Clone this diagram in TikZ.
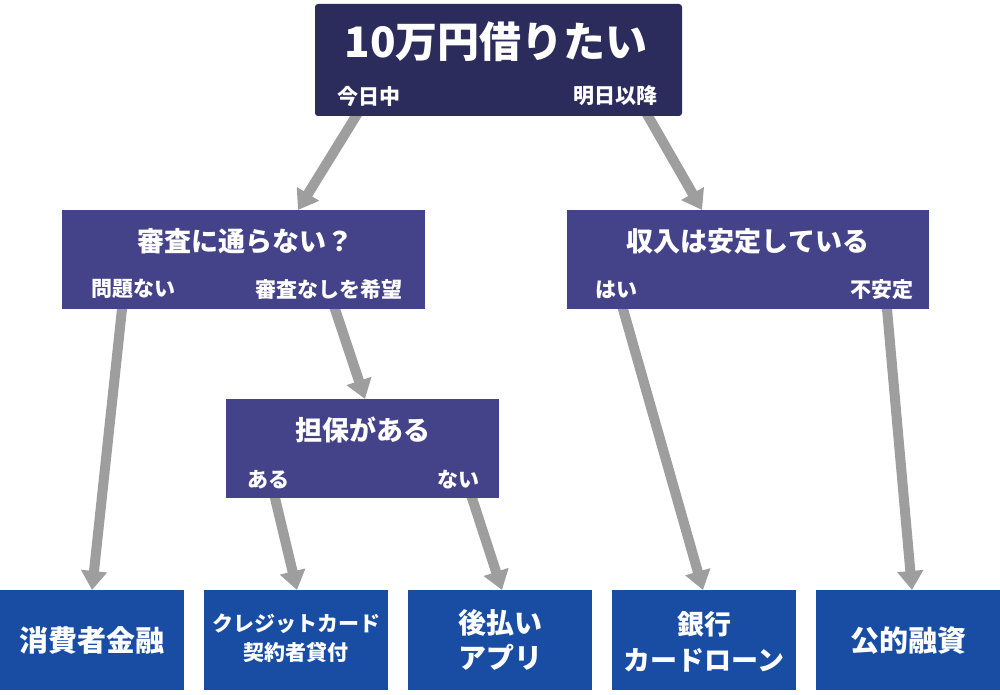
\documentclass[tikz,border=0pt]{standalone}
\usepackage{fontspec}
\setmainfont{Noto Sans CJK JP}
\usetikzlibrary{arrows.meta,calc,backgrounds}
\definecolor{topc}{RGB}{43,44,92}
\definecolor{midc}{RGB}{68,67,138}
\definecolor{botc}{RGB}{24,77,163}
\definecolor{arrc}{RGB}{158,158,158}
\newcommand\fsz[2]{\fontsize{#1pt}{#2pt}\selectfont}
\tikzset{
  box/.style={draw=none, inner sep=0pt, outer sep=0pt},
  topbox/.style={box, fill=topc, rounded corners=3pt, minimum width=367pt, minimum height=112pt},
  midbox/.style={box, fill=midc, minimum height=99pt},
  botbox/.style={box, fill=botc, minimum width=184pt, minimum height=100pt},
  txt/.style={text=white, inner sep=0pt, align=center, font=\bfseries},
  arr/.style={draw=arrc, line width=10pt, -{Triangle[width=25pt,length=19pt]}}
}
\begin{document}
\begin{tikzpicture}[x=1pt,y=-1pt]
\useasboundingbox (0,0) rectangle (1000,695);
% boxes
\node[topbox] (top) at (498.5,60) {};
\node[midbox, minimum width=363pt] (l2) at (243.5,259.5) {};
\node[midbox, minimum width=362pt] (r2) at (748,259.5) {};
\node[midbox, minimum width=273pt] (l3) at (362.5,448.5) {};
\node[botbox] (b1) at (92,640) {};
\node[botbox] (b2) at (296,640) {};
\node[botbox] (b3) at (500,640) {};
\node[botbox] (b4) at (704,640) {};
\node[botbox] (b5) at (908,640) {};
% texts
\node[txt, font=\bfseries\fsz{42}{46}] (ttitle) at (496,42) {10万円借りたい};
\node[txt, font=\bfseries\fsz{21}{25}] (tla) at (368.5,96) {今日中};
\node[txt, font=\bfseries\fsz{21}{25}] (tlb) at (615.5,96) {明日以降};
\node[txt, font=\bfseries\fsz{27}{32}] (l2title) at (245,241) {審査に通らない？};
\node[txt, font=\bfseries\fsz{21}{25}] (l2a) at (133.5,289) {問題ない};
\node[txt, font=\bfseries\fsz{21}{25}] (l2b) at (328.5,289) {審査なしを希望};
\node[txt, font=\bfseries\fsz{27}{32}] (r2title) at (748,241) {収入は安定している};
\node[txt, font=\bfseries\fsz{21}{25}] (r2a) at (616,290) {はい};
\node[txt, font=\bfseries\fsz{21}{25}] (r2b) at (881.5,290) {不安定};
\node[txt, font=\bfseries\fsz{27}{32}] (l3title) at (363,430) {担保がある};
\node[txt, font=\bfseries\fsz{21}{25}] (l3a) at (268.5,480) {ある};
\node[txt, font=\bfseries\fsz{21}{25}] (l3b) at (458,480) {ない};
\node[txt, font=\bfseries\fsz{29}{35}] (t1) at (91.5,640) {消費者金融};
\node[txt, font=\bfseries\fsz{21}{29}] (t2) at (296,638) {クレジットカード\\契約者貸付};
\node[txt, font=\bfseries\fsz{28}{35}] (t3) at (500,640) {後払い\\アプリ};
\node[txt, font=\bfseries\fsz{27}{36}] (t4) at (704,642) {銀行\\カードローン};
\node[txt, font=\bfseries\fsz{29}{35}] (t5) at (908,641) {公的融資};
% arrow end points
\coordinate (s1) at ([xshift=41pt]top.south west);
\coordinate (e1) at ([xshift=236pt]l2.north west);
\coordinate (s2) at ([xshift=333pt]top.south west);
\coordinate (e2) at ([xshift=135pt]r2.north west);
\coordinate (s3) at ([xshift=60pt]l2.south west);
\coordinate (e3) at ([xshift=92pt]b1.north west);
\coordinate (s4) at ([xshift=273pt]l2.south west);
\coordinate (e4) at ([xshift=139pt]l3.north west);
\coordinate (s5) at ([xshift=49pt]l3.south west);
\coordinate (e5) at ([xshift=93pt]b2.north west);
\coordinate (s6) at ([xshift=246pt]l3.south west);
\coordinate (e6) at ([xshift=94pt]b3.north west);
\coordinate (s7) at ([xshift=56pt]r2.south west);
\coordinate (e7) at ([xshift=91pt]b4.north west);
\coordinate (s8) at ([xshift=320pt]r2.south west);
\coordinate (e8) at ([xshift=96pt]b5.north west);
\begin{pgfonlayer}{background}
\foreach \i in {1,...,8}{
  \draw[arr] ($(s\i)!-8pt!(e\i)$) -- (e\i);
}
\end{pgfonlayer}
\end{tikzpicture}
\end{document}
